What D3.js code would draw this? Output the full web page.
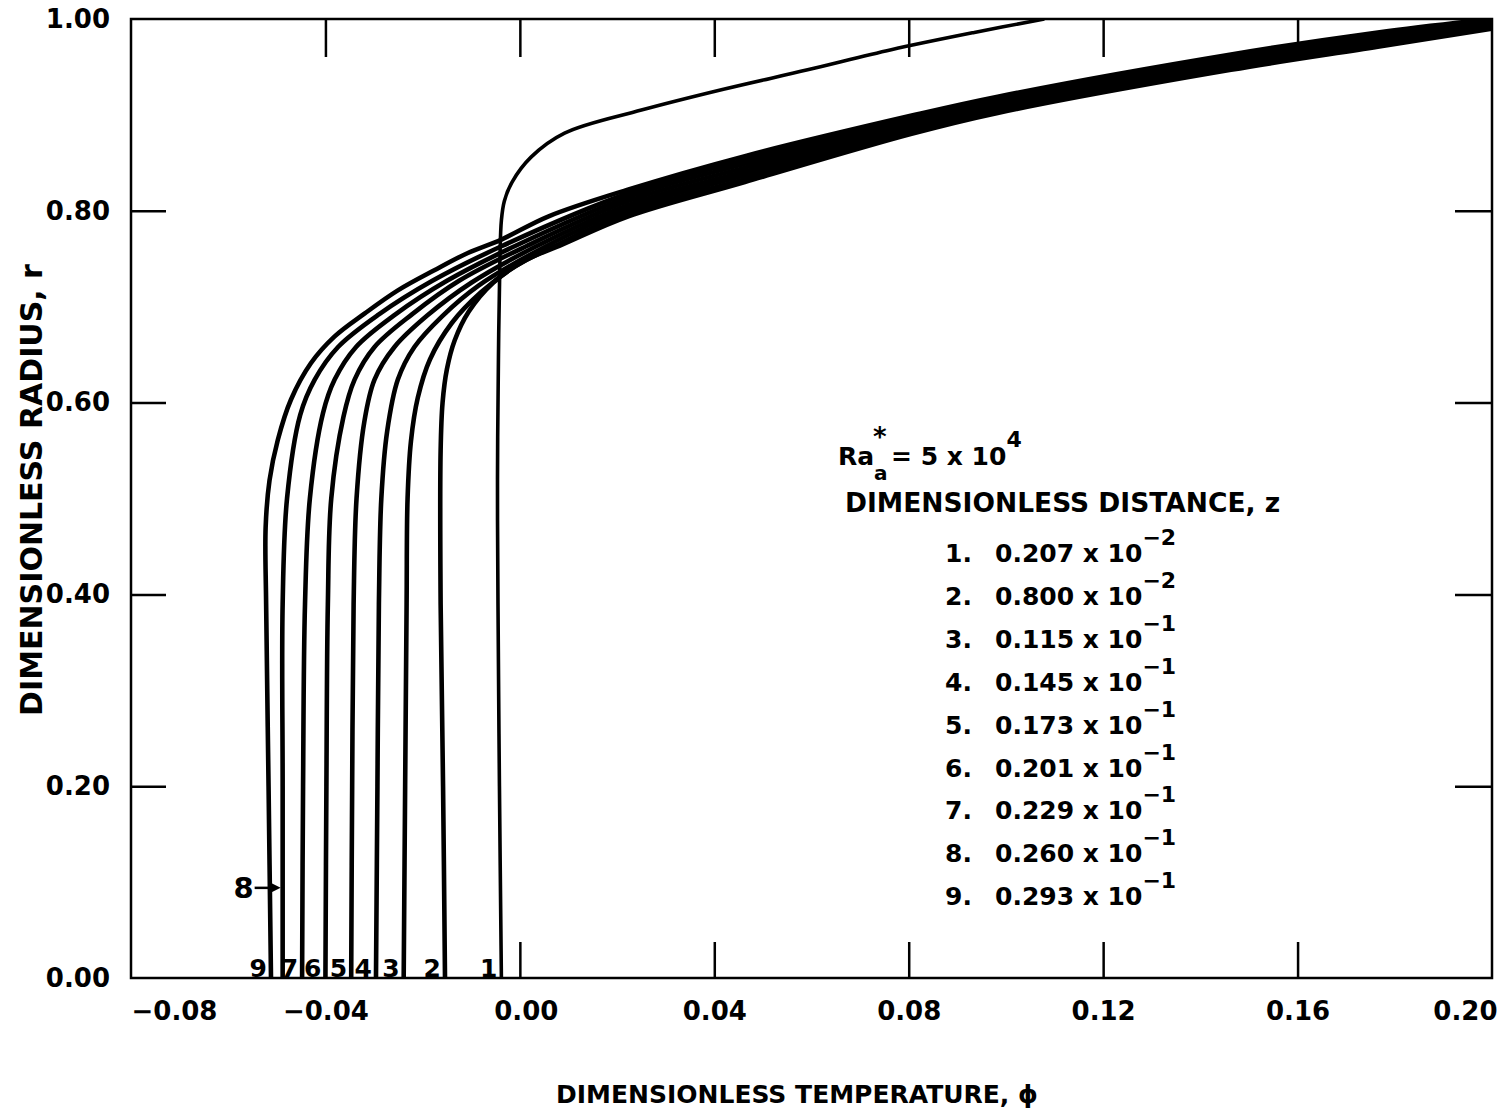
<!DOCTYPE html>
<html>
<head>
<meta charset="utf-8">
<script src="https://cdn.jsdelivr.net/npm/d3@7"></script>
<style>
  body { margin: 0; background: #fff; }
  text { font-family: "DejaVu Sans", sans-serif; font-weight: bold; fill: #000; }
</style>
</head>
<body>
<script>
// axis ticks
const phiTicks = [-0.08, -0.04, 0.00, 0.04, 0.08, 0.12, 0.16, 0.20];
const phiTickLabels = ["\u22120.08", "\u22120.04", "0.00", "0.04", "0.08", "0.12", "0.16", "0.20"];
const rTicks = [0.00, 0.20, 0.40, 0.60, 0.80, 1.00];
const rTickLabels = ["0.00", "0.20", "0.40", "0.60", "0.80", "1.00"];

// legend: dimensionless distance z for each curve
const curveNames = ["1", "2", "3", "4", "5", "6", "7", "8", "9"];
const zMantissa = ["0.207", "0.800", "0.115", "0.145", "0.173", "0.201", "0.229", "0.260", "0.293"];
const zExponent = ["\u22122", "\u22122", "\u22121", "\u22121", "\u22121", "\u22121", "\u22121", "\u22121", "\u22121"];

// curves, [phi, r]
const curve1 = [[-0.0038, 0], [-0.0042, 0.20], [-0.0045, 0.39], [-0.0046, 0.52], [-0.0044, 0.65], [-0.0041, 0.75],
  [-0.0038, 0.79], [-0.0032, 0.81], [-0.0016, 0.83], [0.0023, 0.856], [0.0092, 0.881], [0.0250, 0.905],
  [0.0421, 0.927], [0.0592, 0.947], [0.0764, 0.968], [0.0935, 0.986], [0.1079, 1.0]];
const curve2 = [[-0.0154, 0], [-0.0158, 0.20], [-0.0163, 0.39], [-0.0163, 0.55], [-0.0159, 0.60], [-0.0150, 0.635],
  [-0.0134, 0.665], [-0.0105, 0.695], [-0.0055, 0.725], [0.0010, 0.748], [0.0088, 0.765], [0.0222, 0.794],
  [0.0463, 0.830], [0.0804, 0.880], [0.0983, 0.902], [0.1463, 0.947], [0.1765, 0.971], [0.200, 0.990]];
const curve3 = [[-0.0239, 0], [-0.0236, 0.20], [-0.0233, 0.39], [-0.0231, 0.50], [-0.0224, 0.56], [-0.0210, 0.605],
  [-0.0185, 0.645], [-0.0140, 0.683], [-0.0080, 0.715], [-0.0010, 0.742], [0.0071, 0.763], [0.0222, 0.798],
  [0.0463, 0.833], [0.0804, 0.882], [0.0983, 0.904], [0.1463, 0.949], [0.1765, 0.973], [0.200, 0.991]];
const curve4 = [[-0.0296, 0], [-0.0293, 0.20], [-0.0290, 0.39], [-0.0285, 0.50], [-0.0273, 0.57], [-0.0251, 0.624],
  [-0.0217, 0.658], [-0.0160, 0.690], [-0.0085, 0.722], [0.0054, 0.763], [0.0222, 0.802], [0.0463, 0.837],
  [0.0804, 0.884], [0.0983, 0.906], [0.1463, 0.951], [0.1765, 0.975], [0.200, 0.993]];
const curve5 = [[-0.0347, 0], [-0.0345, 0.20], [-0.0342, 0.39], [-0.0336, 0.50], [-0.0320, 0.58], [-0.0299, 0.624],
  [-0.0258, 0.658], [-0.0190, 0.691], [-0.0100, 0.725], [0.0034, 0.763], [0.0222, 0.806], [0.0463, 0.841],
  [0.0804, 0.887], [0.0983, 0.909], [0.1463, 0.954], [0.1765, 0.977], [0.200, 0.994]];
const curve6 = [[-0.0400, 0], [-0.0398, 0.20], [-0.0395, 0.39], [-0.0388, 0.50], [-0.0363, 0.585], [-0.0340, 0.624],
  [-0.0299, 0.658], [-0.0222, 0.692], [-0.0125, 0.727], [0.0013, 0.763], [0.0222, 0.810], [0.0463, 0.845],
  [0.0804, 0.890], [0.0983, 0.911], [0.1463, 0.956], [0.1765, 0.979], [0.200, 0.996]];
const curve7 = [[-0.0448, 0], [-0.0446, 0.20], [-0.0442, 0.39], [-0.0432, 0.50], [-0.0405, 0.589], [-0.0381, 0.624],
  [-0.0337, 0.658], [-0.0256, 0.692], [-0.0150, 0.727], [-0.0011, 0.763], [0.0222, 0.814], [0.0463, 0.849],
  [0.0804, 0.893], [0.0983, 0.914], [0.1463, 0.958], [0.1765, 0.981], [0.200, 0.997]];
const curve8 = [[-0.0488, 0], [-0.0488, 0.20], [-0.0488, 0.39], [-0.0479, 0.50], [-0.0452, 0.587], [-0.0422, 0.624],
  [-0.0374, 0.658], [-0.0290, 0.692], [-0.0180, 0.727], [-0.0038, 0.763], [0.0222, 0.818], [0.0463, 0.853],
  [0.0804, 0.896], [0.0983, 0.916], [0.1463, 0.961], [0.1765, 0.984], [0.200, 0.999]];
const curve9 = [[-0.0512, 0], [-0.0517, 0.20], [-0.0522, 0.39], [-0.0523, 0.47], [-0.0515, 0.519], [-0.0498, 0.561],
  [-0.0471, 0.603], [-0.0430, 0.641], [-0.0381, 0.669], [-0.0319, 0.693], [-0.0251, 0.717], [-0.0176, 0.738],
  [-0.0107, 0.756], [-0.0038, 0.770], [0.0058, 0.794], [0.0222, 0.822], [0.0463, 0.857], [0.0804, 0.899],
  [0.0983, 0.919], [0.1463, 0.963], [0.1765, 0.986], [0.200, 1.000]];

const curves = [curve1, curve2, curve3, curve4, curve5, curve6, curve7, curve8, curve9];

let width = 1508,
    height = 1113;

let svg = d3.select("body").append("svg")
    .attr("width", width).attr("height", height);

let x = d3.scaleLinear().domain([-0.08, 0.20]).range([131, 1492]);
let y = d3.scaleLinear().domain([0, 1]).range([978, 19]);

svg.append("defs").append("clipPath").attr("id", "plot-clip")
    .append("rect")
    .attr("x", x(-0.08)).attr("y", y(1))
    .attr("width", x(0.20) - x(-0.08)).attr("height", y(0) - y(1));

// axes, all ticks point inward
let bottomAxis = svg.append("g")
    .attr("transform", "translate(0," + y(0) + ")")
    .call(d3.axisBottom(x).tickValues(phiTicks)
        .tickFormat((d, i) => phiTickLabels[i])
        .tickSizeInner(-36).tickSizeOuter(0).tickPadding(24));
bottomAxis.selectAll(".tick line").filter(d => d < -0.02 || d > 0.19).remove();
bottomAxis.selectAll(".tick text")
    .attr("text-anchor", d => d < -0.07 ? "start" : (d > 0.19 ? "end" : "middle"))
    .attr("dx", d => d > 0.19 ? 5 : (d === 0 ? 6 : 0));

let topAxis = svg.append("g")
    .attr("transform", "translate(0," + y(1) + ")")
    .call(d3.axisTop(x).tickValues(phiTicks.slice(1, -1))
        .tickFormat("").tickSizeInner(-38).tickSizeOuter(0));

let leftAxis = svg.append("g")
    .attr("transform", "translate(" + x(-0.08) + ",0)")
    .call(d3.axisLeft(y).tickValues(rTicks)
        .tickFormat((d, i) => rTickLabels[i])
        .tickSizeInner(-35).tickSizeOuter(0).tickPadding(21));
leftAxis.selectAll(".tick line").filter(d => d < 0.1 || d > 0.9).remove();

let rightAxis = svg.append("g")
    .attr("transform", "translate(" + x(0.20) + ",0)")
    .call(d3.axisRight(y).tickValues(rTicks.slice(1, -1))
        .tickFormat("").tickSizeInner(-37).tickSizeOuter(0));

svg.selectAll(".domain").remove();
svg.selectAll(".tick line").attr("stroke", "#000").attr("stroke-width", 2.5);
svg.selectAll(".tick text")
    .style("font-family", "'DejaVu Sans', sans-serif")
    .style("font-weight", "bold")
    .style("font-size", "26px")
    .attr("fill", "#000");

// frame
svg.append("rect")
    .attr("x", x(-0.08)).attr("y", y(1))
    .attr("width", x(0.20) - x(-0.08)).attr("height", y(0) - y(1))
    .attr("fill", "none").attr("stroke", "#000").attr("stroke-width", 2.5);

// curves
let line = d3.line()
    .x(d => x(d[0]))
    .y(d => y(d[1]))
    .curve(d3.curveCatmullRom.alpha(0.5));

svg.append("g").attr("clip-path", "url(#plot-clip)")
    .selectAll("path")
    .data(curves)
    .enter()
    .append("path")
    .attr("d", line)
    .attr("fill", "none")
    .attr("stroke", "#000")
    .attr("stroke-width", (d, i) => i === 0 ? 3.6 : 4.6)
    .attr("stroke-linejoin", "round");

// curve numbers at the bottom
svg.append("g").selectAll("text")
    .data(curves.map((c, i) => ({ name: curveNames[i], phi: c[0][0] })).filter(d => d.name !== "8"))
    .enter()
    .append("text")
    .attr("x", d => x(d.phi) - 4)
    .attr("y", y(0) - 1)
    .attr("text-anchor", "end")
    .style("font-size", "25px")
    .text(d => d.name);

// "8" with arrow
let arrowY = y(0.094);
let tip = x(curve8[0][0]) - 2;
svg.append("text")
    .attr("x", tip - 27).attr("y", arrowY + 10)
    .attr("text-anchor", "end")
    .style("font-size", "29px")
    .text("8");
svg.append("line")
    .attr("x1", tip - 26).attr("y1", arrowY)
    .attr("x2", tip - 6).attr("y2", arrowY)
    .attr("stroke", "#000").attr("stroke-width", 2.5);
svg.append("path")
    .attr("d", "M" + tip + "," + arrowY + " L" + (tip - 10) + "," + (arrowY - 5) + " L" + (tip - 10) + "," + (arrowY + 5) + " Z")
    .attr("fill", "#000");

// legend
let legend = svg.append("g");
legend.append("text").attr("x", 838).attr("y", 465).style("font-size", "25px").text("Ra");
legend.append("text").attr("x", 873).attr("y", 446).style("font-size", "26px").text("*");
legend.append("text").attr("x", 874).attr("y", 480).style("font-size", "20px").text("a");
let eq = legend.append("text").attr("x", 891).attr("y", 465).style("font-size", "25px");
eq.append("tspan").text("= 5 x 10");
eq.append("tspan").attr("dy", -18).style("font-size", "22px").text("4");

legend.append("text")
    .attr("x", 845).attr("y", 512)
    .style("font-size", "26.5px")
    .text("DIMENSIONLESS DISTANCE,  z");

let rows = legend.selectAll(".row")
    .data(curveNames)
    .enter()
    .append("g")
    .attr("class", "row")
    .attr("transform", (d, i) => "translate(0," + (562 + i * 42.9) + ")");
rows.append("text")
    .attr("x", 945)
    .style("font-size", "25px")
    .text(d => d + ".");
let vals = rows.append("text")
    .attr("x", 995)
    .style("font-size", "25px");
vals.append("tspan").text((d, i) => zMantissa[i] + " x 10");
vals.append("tspan").attr("dy", -17).style("font-size", "22px").text((d, i) => zExponent[i]);

// axis titles
svg.append("text")
    .attr("x", 797).attr("y", 1103)
    .attr("text-anchor", "middle")
    .style("font-size", "25px")
    .text("DIMENSIONLESS TEMPERATURE, \u03D5");

svg.append("text")
    .attr("transform", "translate(42,490) rotate(-90)")
    .attr("text-anchor", "middle")
    .style("font-size", "30px")
    .text("DIMENSIONLESS RADIUS, r");
</script>
</body>
</html>
